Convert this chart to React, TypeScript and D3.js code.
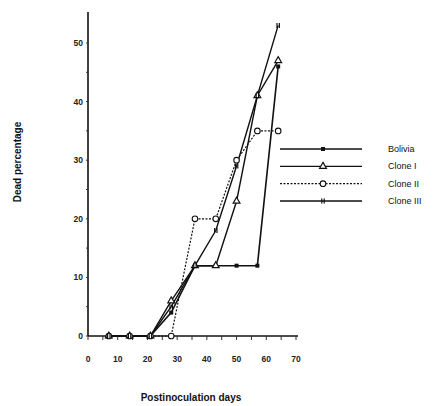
import { useEffect, useRef } from "react";
import * as d3 from "d3";

const days = [7, 14, 21, 28, 36, 43, 50, 57, 64];
const bolivia = [0, 0, 0, 4, 12, 12, 12, 12, 46];
const cloneI = [0, 0, 0, 6, 12, 12, 23, 41, 47];
const cloneII = [0, 0, 0, 0, 20, 20, 30, 35, 35];
const cloneIII = [0, 0, 0, 5, 12, 18, 29, 41, 53];

const seriesNames = ["Bolivia", "Clone I", "Clone II", "Clone III"];
const xTicks = [0, 10, 20, 30, 40, 50, 60, 70];
const yTicks = [0, 10, 20, 30, 40, 50];

const App = () => {
  const svgRef = useRef<SVGSVGElement>(null);
  const width = 440;
  const height = 406;

  useEffect(() => {
    const svg = d3.select(svgRef.current);
    svg.selectAll("*").remove();

    const x = d3.scaleLinear().domain([0, 70]).range([88, 296]);
    const y = d3.scaleLinear().domain([0, 50]).range([336, 43]);
    const font = "'Liberation Sans', Arial, sans-serif";

    // axes
    svg.append("line")
      .attr("x1", x(0)).attr("x2", x(0))
      .attr("y1", y(0)).attr("y2", 12)
      .attr("stroke", "#111").attr("stroke-width", 1.6);
    svg.append("line")
      .attr("x1", x(0)).attr("x2", 298)
      .attr("y1", y(0)).attr("y2", y(0))
      .attr("stroke", "#111").attr("stroke-width", 1.6);

    const yMinor = d3.range(0, 55, 5);
    svg.append("g").selectAll("line")
      .data(yMinor)
      .join("line")
      .attr("x1", x(0) - 2).attr("x2", x(0))
      .attr("y1", d => y(d)).attr("y2", d => y(d))
      .attr("stroke", "#333").attr("stroke-width", 1);

    svg.append("g").selectAll("text")
      .data(yTicks)
      .join("text")
      .attr("x", x(0) - 5)
      .attr("y", d => y(d))
      .attr("dy", "0.35em")
      .attr("text-anchor", "end")
      .attr("font-family", font)
      .attr("font-size", 8.5)
      .attr("font-weight", "bold")
      .attr("fill", "#222")
      .text(d => d);

    const xMinor = d3.range(0, 75, 5);
    svg.append("g").selectAll("line")
      .data(xMinor)
      .join("line")
      .attr("x1", d => x(d)).attr("x2", d => x(d))
      .attr("y1", y(0)).attr("y2", y(0) + 4)
      .attr("stroke", "#333").attr("stroke-width", 1);

    svg.append("g").selectAll("text")
      .data(xTicks)
      .join("text")
      .attr("x", d => x(d))
      .attr("y", 359)
      .attr("dy", "0.35em")
      .attr("text-anchor", "middle")
      .attr("font-family", font)
      .attr("font-size", 8.5)
      .attr("font-weight", "bold")
      .attr("fill", "#222")
      .text(d => d);

    svg.append("text")
      .attr("transform", `translate(21,162) rotate(-90)`)
      .attr("text-anchor", "middle")
      .attr("font-family", font)
      .attr("font-size", 10)
      .attr("font-weight", "bold")
      .attr("fill", "#111")
      .text("Dead percentage");

    svg.append("text")
      .attr("x", 191)
      .attr("y", 401)
      .attr("text-anchor", "middle")
      .attr("font-family", font)
      .attr("font-size", 10)
      .attr("font-weight", "bold")
      .attr("fill", "#111")
      .text("Postinoculation days");

    const allSeries = [bolivia, cloneI, cloneII, cloneIII];
    const dashes = [null, null, "2,1.5", null];
    const widths = [1.6, 1.4, 1.2, 1.4];

    const line = d3.line<number>()
      .x((_, i) => x(days[i]))
      .y(d => y(d));

    const drawMarker = (g: any, k: number, cx: number, cy: number) => {
      if (k === 0) {
        g.append("rect")
          .attr("x", cx - 2).attr("y", cy - 2)
          .attr("width", 4).attr("height", 4)
          .attr("fill", "#111");
      } else if (k === 1) {
        const tri = d3.symbol().type(d3.symbolTriangle).size(20);
        g.append("path")
          .attr("d", tri())
          .attr("transform", `translate(${cx},${cy})`)
          .attr("fill", "#fff").attr("stroke", "#111").attr("stroke-width", 1.2);
      } else if (k === 2) {
        g.append("circle")
          .attr("cx", cx).attr("cy", cy).attr("r", 2.8)
          .attr("fill", "#fff").attr("stroke", "#111").attr("stroke-width", 1.1);
      } else {
        [-1.2, 1.2].forEach(o => {
          g.append("line")
            .attr("x1", cx + o).attr("x2", cx + o)
            .attr("y1", cy - 2.5).attr("y2", cy + 2.5)
            .attr("stroke", "#111").attr("stroke-width", 1.2);
        });
      }
    };

    allSeries.forEach((vals, k) => {
      const g = svg.append("g");
      g.append("path")
        .datum(vals)
        .attr("d", line)
        .attr("fill", "none")
        .attr("stroke", "#111")
        .attr("stroke-width", widths[k])
        .attr("stroke-dasharray", dashes[k]);
    });
    allSeries.forEach((vals, k) => {
      const g = svg.append("g");
      vals.forEach((v, i) => drawMarker(g, k, x(days[i]), y(v)));
    });

    // legend
    const legendY = d3.scalePoint().domain(seriesNames).range([149, 201]);
    seriesNames.forEach((name, k) => {
      const ly = legendY(name)!;
      const g = svg.append("g");
      g.append("line")
        .attr("x1", 280).attr("x2", 362)
        .attr("y1", ly).attr("y2", ly)
        .attr("stroke", "#111")
        .attr("stroke-width", widths[k])
        .attr("stroke-dasharray", dashes[k]);
      drawMarker(g, k, 323, ly);
      g.append("text")
        .attr("x", 388)
        .attr("y", ly)
        .attr("dy", "0.35em")
        .attr("font-family", font)
        .attr("font-size", 9)
        .attr("fill", "#111")
        .text(name);
    });
  }, []);

  return (
    <svg
      ref={svgRef}
      width={width}
      height={height}
      style={{ position: "absolute", left: 0, top: 0, background: "#fff" }}
    ></svg>
  );
};

export default App;
